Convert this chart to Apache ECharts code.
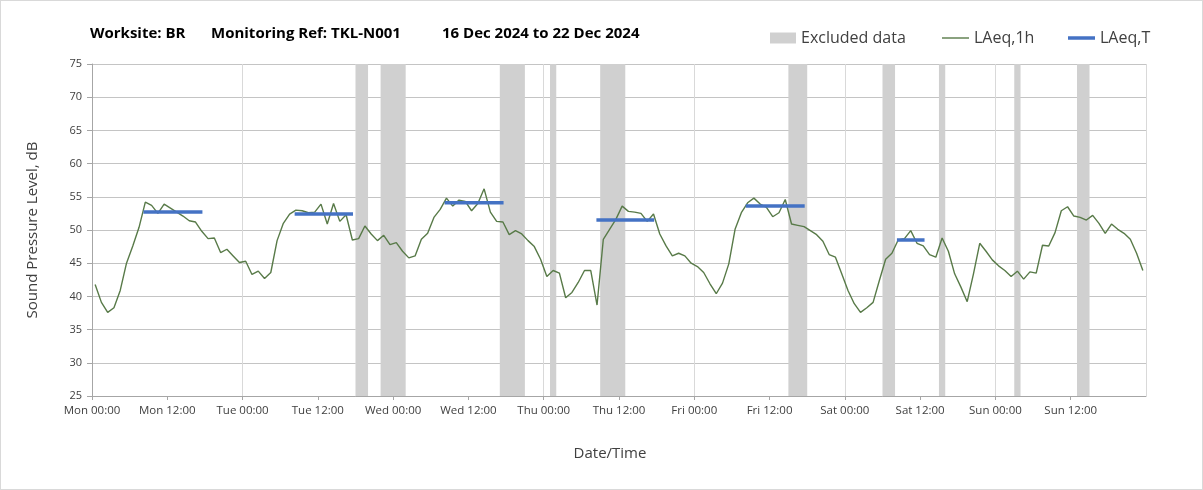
<!DOCTYPE html>
<html>
<head>
<meta charset="utf-8">
<script src="https://cdn.jsdelivr.net/npm/echarts@6/dist/echarts.min.js"></script>
<style>
html,body{margin:0;padding:0;background:#fff;}
#chart{width:1201px;height:488px;border:1px solid #d9d9d9;}
</style>
</head>
<body>
<div id="chart"></div>
<script>
// Tick labels every 12 hours
const tickLabels = ["Mon 00:00","Mon 12:00","Tue 00:00","Tue 12:00","Wed 00:00","Wed 12:00","Thu 00:00","Thu 12:00","Fri 00:00","Fri 12:00","Sat 00:00","Sat 12:00","Sun 00:00","Sun 12:00"];

// Hourly LAeq,1h values (dB), hour 0 = Mon 00:00
const laeq1h = [
 41.8,39.1,37.6,38.3,40.9,45.0,47.6,50.4,54.2,53.7,52.5,53.9,53.3,52.7,52.1,51.4,51.2,49.8,48.7,48.8,46.6,47.1,46.1,45.1,
 45.3,43.3,43.8,42.7,43.6,48.4,51.0,52.4,53.0,52.9,52.6,52.7,53.9,50.9,54.0,51.3,52.3,48.5,48.7,50.6,49.4,48.4,49.2,47.8,
 48.1,46.8,45.8,46.1,48.6,49.5,51.9,53.1,54.8,53.6,54.5,54.3,52.9,54.0,56.2,52.7,51.3,51.2,49.3,49.9,49.4,48.4,47.5,45.6,
 43.0,43.9,43.5,39.8,40.6,42.1,43.9,43.9,38.7,48.6,50.1,51.6,53.6,52.8,52.7,52.5,51.3,52.4,49.4,47.6,46.1,46.5,46.1,45.0,
 44.5,43.6,41.9,40.4,42.0,44.9,50.1,52.6,54.1,54.8,53.9,53.4,52.0,52.6,54.6,50.9,50.7,50.5,49.9,49.3,48.3,46.3,45.9,43.4,
 40.9,38.9,37.6,38.3,39.1,42.4,45.6,46.5,48.5,48.7,49.9,48.0,47.6,46.3,45.9,48.8,46.8,43.4,41.4,39.2,43.4,48.0,46.8,45.5,
 44.6,43.9,43.0,43.8,42.6,43.7,43.5,47.7,47.6,49.6,52.9,53.5,52.1,51.9,51.5,52.2,51.0,49.5,50.9,50.1,49.5,48.6,46.5,43.9
];

// LAeq,T periods (hours from Mon 00:00) and levels
const laeqTStart = [8.2, 32.3, 56.2, 80.4, 104.2, 128.3];
const laeqTEnd   = [17.6, 41.6, 65.6, 89.6, 113.6, 132.7];
const laeqTValue = [52.7, 52.4, 54.1, 51.5, 53.6, 48.5];

// Excluded data periods (hours from Mon 00:00)
const exclStart = [42, 46, 65, 73, 81, 111, 126, 135, 147, 157];
const exclEnd   = [44, 50, 69, 74, 85, 114, 128, 136, 148, 159];

// Y axis ticks
const yMin = 25, yMax = 75, yStep = 5;

const chart = echarts.init(document.getElementById('chart'), null, {renderer:'canvas'});

const font = "'Open Sans', 'Noto Sans', sans-serif";
const greenColor = '#587a48';
const blueColor = '#4472c4';

const lineData = laeq1h.map((v, h) => [h + 0.5, v]);

const series = [];
series.push({
  name: 'Excluded data',
  type: 'line',
  data: [],
  itemStyle: {color: '#d0d0d0'},
  z: 1,
  silent: true,
  markArea: {
    silent: true,
    itemStyle: {color: '#d0d0d0'},
    data: exclStart.map((s, i) => [{xAxis: s}, {xAxis: exclEnd[i]}])
  }
});
series.push({
  name: 'LAeq,1h',
  type: 'line',
  data: lineData,
  symbol: 'none',
  z: 3,
  itemStyle: {color: greenColor},
  lineStyle: {color: greenColor, width: 1.4}
});
laeqTStart.forEach((s, i) => {
  series.push({
    name: 'LAeq,T',
    type: 'line',
    data: [[s, laeqTValue[i]], [laeqTEnd[i], laeqTValue[i]]],
    symbol: 'none',
    z: 4,
    itemStyle: {color: blueColor},
    lineStyle: {color: blueColor, width: 3.5}
  });
});

const legendText = {fontFamily: font, fontSize: 16, color: '#404040'};
const titleText = {fontFamily: font, fontSize: 15, fontWeight: 'bold', color: '#000'};

const option = {
  animation: false,
  backgroundColor: '#fff',
  title: [
    {text: 'Worksite: BR', left: 84, top: 20, textStyle: titleText},
    {text: 'Monitoring Ref: TKL-N001', left: 205, top: 20, textStyle: titleText},
    {text: '16 Dec 2024 to 22 Dec 2024', left: 436, top: 20, textStyle: titleText}
  ],
  legend: [
    {data: [{name: 'Excluded data', icon: 'rect'}], left: 764, top: 24, itemWidth: 26, itemHeight: 11, itemGap: 4, textStyle: legendText, selectedMode: false},
    {data: [{name: 'LAeq,1h', icon: 'rect'}], left: 936, top: 24, itemWidth: 27, itemHeight: 1.4, textStyle: legendText, selectedMode: false},
    {data: [{name: 'LAeq,T', icon: 'rect'}], left: 1062, top: 24, itemWidth: 27, itemHeight: 3.5, textStyle: legendText, selectedMode: false}
  ],
  grid: {left: 91, right: 56, top: 63, bottom: 93, containLabel: false},
  xAxis: [
    {
      type: 'value', min: 0, max: 168, interval: 12,
      name: 'Date/Time', nameLocation: 'middle', nameGap: 50,
      nameTextStyle: {fontFamily: font, fontSize: 15, color: '#404040', padding: [0, 18, 0, 0]},
      axisLine: {show: true, onZero: false, lineStyle: {color: '#a6a6a6', width: 1}},
      axisTick: {show: true, length: 4, lineStyle: {color: '#a6a6a6'}},
      axisLabel: {
        fontFamily: font, fontSize: 11.5, color: '#404040', margin: 9,
        showMaxLabel: false,
        formatter: function (v) { const i = Math.round(v / 12); return tickLabels[i] !== undefined ? tickLabels[i] : ''; }
      },
      splitLine: {show: false}
    },
    {
      type: 'value', min: 0, max: 168, interval: 24, position: 'bottom',
      axisLine: {show: false}, axisTick: {show: false}, axisLabel: {show: false},
      splitLine: {show: true, lineStyle: {color: '#d9d9d9', width: 1}}
    }
  ],
  yAxis: {
    type: 'value', min: yMin, max: yMax, interval: yStep,
    name: 'Sound Pressure Level, dB', nameLocation: 'middle', nameGap: 52, nameRotate: 90,
    nameTextStyle: {fontFamily: font, fontSize: 15, color: '#404040'},
    axisLine: {show: true, lineStyle: {color: '#a6a6a6', width: 1}},
    axisTick: {show: true, length: 5, lineStyle: {color: '#a6a6a6'}},
    axisLabel: {fontFamily: font, fontSize: 11, color: '#404040', margin: 10},
    splitLine: {show: true, lineStyle: {color: '#c4c4c4', width: 1}}
  },
  series: series
};

chart.setOption(option);
</script>
</body>
</html>
